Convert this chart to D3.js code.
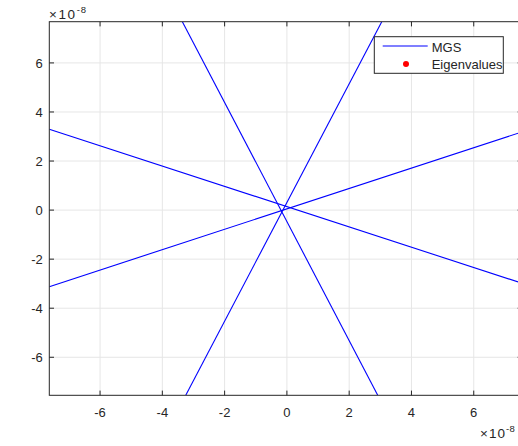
<!DOCTYPE html>
<html><head><meta charset="utf-8">
<script src="https://cdn.jsdelivr.net/npm/d3@7"></script>
<style>
html,body{margin:0;padding:0;background:#fff;overflow:hidden}
text{font-family:"Liberation Sans",Arial,sans-serif;fill:#262626}
</style></head>
<body>
<svg id="c" width="518" height="446"></svg>
<script>
// ---- data (units of 1e-8) ----
const xTicks = [-6, -4, -2, 0, 2, 4, 6];
const yTicks = [-6, -4, -2, 0, 2, 4, 6];
const seriesNames = ["MGS", "Eigenvalues"];
// MGS line segments (start / end points)
const mgsX1 = [-7.63, -7.63, -3.357, 3.046];
const mgsY1 = [3.296, -3.121, 7.68, 7.68];
const mgsX2 = [7.7, 7.7, 2.917, -3.248];
const mgsY2 = [-3.043, 3.248, -7.548, -7.548];
// Eigenvalues (none visible inside the view)
const eigX = [];
const eigY = [];
const xDomain = [-7.63, 7.56];
const yDomain = [-7.55, 7.68];

const svg = d3.select("#c");
const L = 49.3, T = 21.7, B = 395.3;
const x = d3.scaleLinear().domain(xDomain).range([L, L + (xDomain[1]-xDomain[0])*31.14]);
const y = d3.scaleLinear().domain(yDomain).range([B, T]);
const R = x(xDomain[1]);
const axisCol = "#262626", gridCol = "#e6e6e6";

svg.append("defs").append("clipPath").attr("id","clip")
  .append("rect").attr("x",L).attr("y",T).attr("width",R-L).attr("height",B-T);

// grid
const g = svg.append("g");
g.selectAll(".gx").data(xTicks).join("line")
  .attr("x1",d=>x(d)).attr("x2",d=>x(d)).attr("y1",T).attr("y2",B)
  .attr("stroke",gridCol).attr("stroke-width",1);
g.selectAll(".gy").data(yTicks).join("line")
  .attr("y1",d=>y(d)).attr("y2",d=>y(d)).attr("x1",L).attr("x2",R)
  .attr("stroke",gridCol).attr("stroke-width",1);

// data lines
const plot = svg.append("g").attr("clip-path","url(#clip)");
plot.selectAll(".mgs").data(d3.range(mgsX1.length)).join("line")
  .attr("x1",i=>x(mgsX1[i])).attr("y1",i=>y(mgsY1[i]))
  .attr("x2",i=>x(mgsX2[i])).attr("y2",i=>y(mgsY2[i]))
  .attr("stroke","#0000ff").attr("stroke-width",1.1);
plot.selectAll(".eig").data(d3.range(eigX.length)).join("circle")
  .attr("cx",i=>x(eigX[i])).attr("cy",i=>y(eigY[i])).attr("r",3).attr("fill","#ff0000");

// axes (box, inward ticks)
const tl = 4.7;
const ax = svg.append("g").attr("fill","none").attr("stroke",axisCol).attr("stroke-width",1);
ax.append("rect").attr("x",L).attr("y",T).attr("width",R-L).attr("height",B-T);
xTicks.forEach(t=>{
  ax.append("line").attr("x1",x(t)).attr("x2",x(t)).attr("y1",B).attr("y2",B-tl);
  ax.append("line").attr("x1",x(t)).attr("x2",x(t)).attr("y1",T).attr("y2",T+tl);
});
yTicks.forEach(t=>{
  ax.append("line").attr("y1",y(t)).attr("y2",y(t)).attr("x1",L).attr("x2",L+tl);
  ax.append("line").attr("y1",y(t)).attr("y2",y(t)).attr("x1",R).attr("x2",R-tl);
});

// tick labels
svg.selectAll(".xl").data(xTicks).join("text")
  .attr("x",d=>x(d)).attr("y",416.5).attr("text-anchor","middle")
  .attr("font-size",13).text(d=>d);
svg.selectAll(".yl").data(yTicks).join("text")
  .attr("x",42.7).attr("y",d=>y(d)+4.6).attr("text-anchor","end")
  .attr("font-size",13).text(d=>d);

// exponent labels
function expo(px, py, ls){
  const t = svg.append("text").attr("x",px).attr("y",py).attr("font-size",13.5);
  t.append("tspan").attr("letter-spacing",ls).text("\u00d710");
  t.append("tspan").attr("font-size",9.5).attr("dy",-6).attr("letter-spacing",ls/2).text("-8");
}
expo(49, 19.3, 1.6);
expo(480, 438.3, 1.0);

// legend
const lg = svg.append("g");
lg.append("rect").attr("x",374.3).attr("y",36.7).attr("width",129).attr("height",36.6)
  .attr("fill","#fff").attr("stroke",axisCol).attr("stroke-width",1);
lg.append("line").attr("x1",382.7).attr("x2",427.7).attr("y1",46).attr("y2",46)
  .attr("stroke","#0000ff").attr("stroke-width",1.1);
lg.append("circle").attr("cx",406).attr("cy",64).attr("r",3).attr("fill","#ff0000");
lg.append("text").attr("x",431.7).attr("y",51.5).attr("font-size",13).text(seriesNames[0]);
lg.append("text").attr("x",431.7).attr("y",68.5).attr("font-size",13).text(seriesNames[1]);
</script>
</body></html>
